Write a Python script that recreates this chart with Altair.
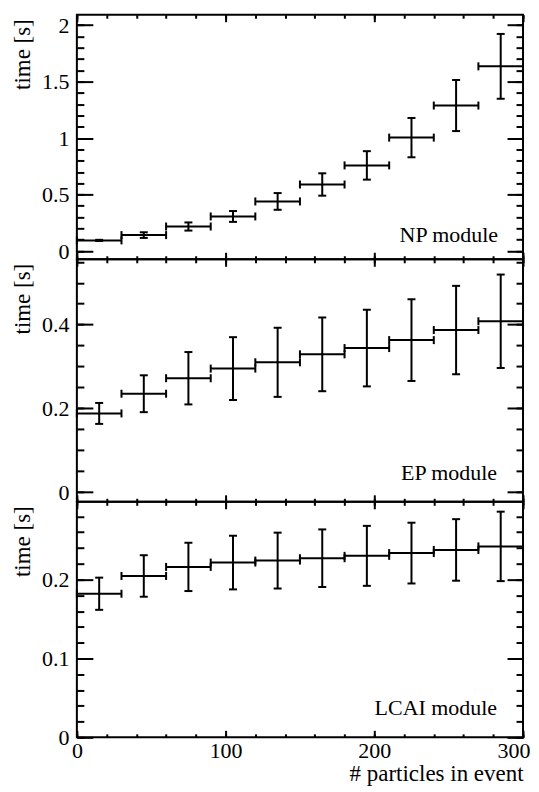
import altair as alt
import pandas as pd

# ---------------- data ----------------
x_centers = [15, 45, 75, 105, 135, 165, 195, 225, 255, 285]
half_width = 15

np_vals = [0.094, 0.141, 0.217, 0.306, 0.439, 0.589, 0.758, 1.004, 1.288, 1.635]
np_errs = [0.005, 0.025, 0.036, 0.048, 0.074, 0.099, 0.126, 0.174, 0.226, 0.287]

ep_vals = [0.188, 0.235, 0.272, 0.295, 0.310, 0.329, 0.344, 0.363, 0.387, 0.408]
ep_errs = [0.025, 0.044, 0.0625, 0.075, 0.0825, 0.088, 0.0915, 0.0975, 0.1055, 0.1115]

lc_vals = [0.182, 0.2045, 0.216, 0.2215, 0.224, 0.227, 0.230, 0.2335, 0.2375, 0.242]
lc_errs = [0.0204, 0.0263, 0.0306, 0.034, 0.0354, 0.0365, 0.038, 0.0385, 0.039, 0.044]

labels = ["NP module", "EP module", "LCAI module"]
x_title = "# particles in event"
y_title = "time [s]"

x_major = [0, 100, 200, 300]
x_minor = [0, 20, 40, 60, 80, 100, 120, 140, 160, 180, 200, 220, 240, 260, 280, 300]

np_major = [0, 0.5, 1, 1.5, 2]
np_minor = [0, 0.1, 0.2, 0.3, 0.4, 0.5, 0.6, 0.7, 0.8, 0.9, 1.0,
            1.1, 1.2, 1.3, 1.4, 1.5, 1.6, 1.7, 1.8, 1.9, 2.0]
ep_major = [0, 0.2, 0.4]
ep_minor = [0, 0.05, 0.1, 0.15, 0.2, 0.25, 0.3, 0.35, 0.4, 0.45, 0.5, 0.55]
lc_major = [0, 0.1, 0.2]
lc_minor = [0, 0.02, 0.04, 0.06, 0.08, 0.1, 0.12, 0.14, 0.16, 0.18, 0.2,
            0.22, 0.24, 0.26, 0.28]

np_dom = [-0.073, 2.092]
ep_dom = [-0.023, 0.556]
lc_dom = [0.0, 0.2985]

# ---------------- layout / style ----------------
FONT = "Liberation Serif"
FS = 22
FT = 23
W = 447
H1, H2, H3 = 245, 243, 236
YMAJ, YMIN = 16, 7
XMAJ, XMIN = 7, 3.5

common = dict(grid=False, domain=False, tickColor="black", tickWidth=2,
              labelColor="black", labelFont=FONT, labelFontSize=FS,
              titleFont=FONT, titleFontSize=FT, titleFontWeight="normal",
              titleColor="black")


def panel(vals, errs, ydom, ymaj, ymin, H, label, lx, ly, bottom):
    df = pd.DataFrame({"xc": x_centers, "val": vals, "err": errs})
    df["xlo"] = df["xc"] - half_width
    df["xhi"] = df["xc"] + half_width
    df["ylo"] = df["val"] - df["err"]
    df["yhi"] = df["val"] + df["err"]
    caps_h = pd.concat([
        df[["xlo", "val"]].rename(columns={"xlo": "xe"}),
        df[["xhi", "val"]].rename(columns={"xhi": "xe"}),
    ], ignore_index=True)
    caps_v = pd.concat([
        df[["xc", "ylo"]].rename(columns={"ylo": "ye"}),
        df[["xc", "yhi"]].rename(columns={"yhi": "ye"}),
    ], ignore_index=True)

    xs = alt.Scale(domain=[0, 300], nice=False, zero=False)
    ys = alt.Scale(domain=ydom, nice=False, zero=False)

    y_left_major = alt.Axis(orient="left", offset=-YMAJ, tickSize=YMAJ, values=ymaj,
                            format="~g", labelPadding=8, labelBaseline="middle",
                            labelFlush=False, labelOverlap=False,
                            title=y_title, titleAngle=270, titleAlign="right",
                            titleBaseline="alphabetic", titleX=-63, titleY=4, **common)
    y_left_minor = alt.Axis(orient="left", offset=-YMIN, tickSize=YMIN, values=ymin,
                            labels=False, title=None, **common)
    y_right_major = alt.Axis(orient="right", offset=-YMAJ, tickSize=YMAJ, values=ymaj,
                             labels=False, title=None, **common)
    y_right_minor = alt.Axis(orient="right", offset=-YMIN, tickSize=YMIN, values=ymin,
                             labels=False, title=None, **common)

    if bottom:
        x_bot_major = alt.Axis(orient="bottom", offset=-XMAJ, tickSize=XMAJ, values=x_major,
                               format="d", labelPadding=3, labelFlush=False,
                               labelOverlap=False,
                               labelExpr="datum.value == 300 ? '' : datum.label",
                               title=x_title, titleX=W, titleY=50,
                               titleAlign="right", titleBaseline="alphabetic", **common)
        x_bot_minor = alt.Axis(orient="bottom", offset=-XMIN, tickSize=XMIN, values=x_minor,
                               format="d", labelPadding=3, labelFlush=False,
                               labelOverlap=False, labelAlign="right", labelOffset=7,
                               labelExpr="datum.value == 300 ? '300' : ''",
                               title=None, **common)
    else:
        x_bot_major = alt.Axis(orient="bottom", offset=-XMAJ, tickSize=XMAJ, values=x_major,
                               labels=False, title=None, **common)
        x_bot_minor = alt.Axis(orient="bottom", offset=-XMIN, tickSize=XMIN, values=x_minor,
                               labels=False, title=None, **common)
    x_top_major = alt.Axis(orient="top", offset=-XMAJ, tickSize=XMAJ, values=x_major,
                           labels=False, title=None, **common)
    x_top_minor = alt.Axis(orient="top", offset=-XMIN, tickSize=XMIN, values=x_minor,
                           labels=False, title=None, **common)

    hr = alt.Chart(df).mark_rule(color="black", strokeWidth=2).encode(
        x=alt.X("xlo:Q", scale=xs, axis=x_bot_major), x2="xhi:Q",
        y=alt.Y("val:Q", scale=ys, axis=y_left_major))
    vr = alt.Chart(df).mark_rule(color="black", strokeWidth=2).encode(
        x=alt.X("xc:Q", scale=xs, axis=x_bot_minor),
        y=alt.Y("ylo:Q", scale=ys, axis=y_left_minor), y2="yhi:Q")
    ch = alt.Chart(caps_h).mark_tick(orient="vertical", size=8, thickness=2,
                                     color="black", opacity=1).encode(
        x=alt.X("xe:Q", scale=xs, axis=x_top_major),
        y=alt.Y("val:Q", scale=ys, axis=y_right_major))
    cv = alt.Chart(caps_v).mark_tick(orient="horizontal", size=8, thickness=2,
                                     color="black", opacity=1).encode(
        x=alt.X("xc:Q", scale=xs, axis=x_top_minor),
        y=alt.Y("ye:Q", scale=ys, axis=y_right_minor))
    txt = alt.Chart(pd.DataFrame({"t": [label]})).mark_text(
        align="right", baseline="alphabetic", font=FONT, fontSize=FS, color="black").encode(
        x=alt.value(lx), y=alt.value(ly), text="t:N")

    return alt.layer(hr, vr, ch, cv, txt).resolve_scale(
        x="independent", y="independent").properties(width=W, height=H)


p1 = panel(np_vals, np_errs, np_dom, np_major, np_minor, H1, labels[0], W - 25, 228, False)
p2 = panel(ep_vals, ep_errs, ep_dom, ep_major, ep_minor, H2, labels[1], W - 26, 221, False)
p3 = panel(lc_vals, lc_errs, lc_dom, lc_major, lc_minor, H3, labels[2], W - 26, 214, True)

chart = alt.vconcat(p1, p2, p3, spacing=0, bounds="flush").properties(
    padding={"left": 3, "top": 4, "right": 0, "bottom": 0},
    background="white",
).configure_view(stroke="black", strokeWidth=2)

chart.save("out.html", embed_options={"renderer": "svg", "actions": False})
